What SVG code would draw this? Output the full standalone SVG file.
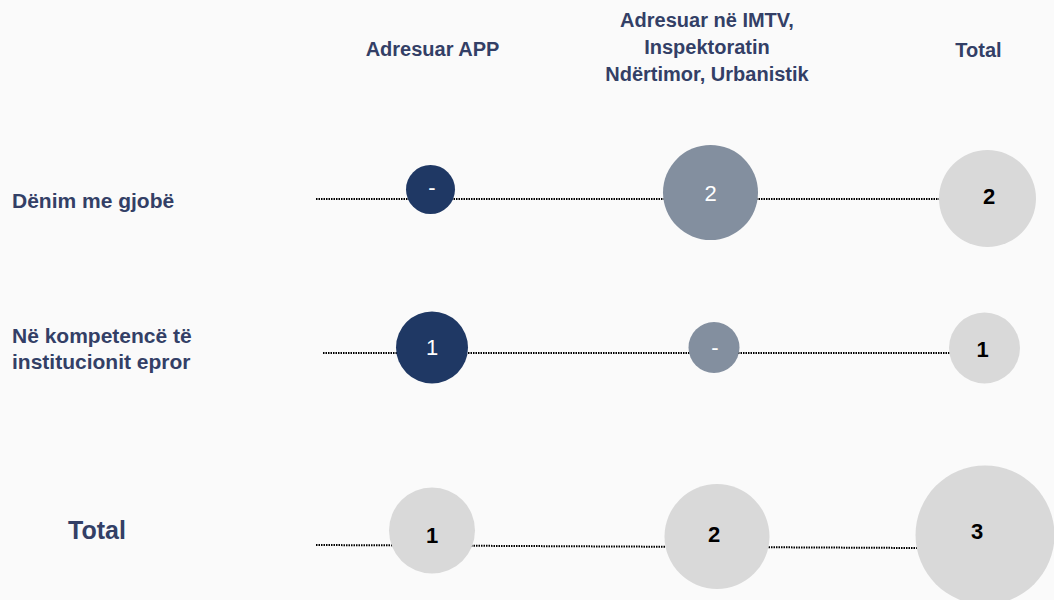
<svg xmlns="http://www.w3.org/2000/svg" width="1054" height="600" viewBox="0 0 1054 600">
<style>
.hdr{font-family:"Liberation Sans",Arial,sans-serif;font-weight:bold;font-size:20px;fill:#333f66;text-anchor:middle}
.lbl{font-family:"Liberation Sans",Arial,sans-serif;font-weight:bold;font-size:21px;fill:#333f66}
.dot{stroke:#000;stroke-width:2;stroke-dasharray:1.5 1;fill:none}
.navy{fill:#1f3864}
.gray{fill:#838f9f}
.light{fill:#d9d9d9}
.vw{font-family:"Liberation Sans",Arial,sans-serif;font-size:22px;fill:#fff;text-anchor:middle}
.vb{font-family:"Liberation Sans",Arial,sans-serif;font-size:22px;font-weight:bold;fill:#000;text-anchor:middle}
</style>
<rect width="1054" height="600" fill="#fafafa"/>
<g id="headers">
<text class="hdr" x="432.5" y="56">Adresuar APP</text>
<text class="hdr" x="707" y="27">Adresuar në IMTV,</text>
<text class="hdr" x="707" y="54">Inspektoratin</text>
<text class="hdr" x="707" y="81">Ndërtimor, Urbanistik</text>
<text class="hdr" x="978.5" y="57">Total</text>
</g>
<g id="row-labels">
<text class="lbl" x="12" y="208">Dënim me gjobë</text>
<text class="lbl" x="12" y="343">Në kompetencë të</text>
<text class="lbl" x="12" y="369">institucionit epror</text>
<text class="lbl" x="68" y="539" style="font-size:25px">Total</text>
</g>
<g id="connectors">
<line class="dot" x1="316" y1="199" x2="940" y2="199"/>
<line class="dot" x1="323" y1="353" x2="950" y2="353"/>
<line class="dot" x1="316" y1="545" x2="917" y2="548"/>
</g>
<g id="n-r1-app"><circle class="navy" cx="430.5" cy="189.5" r="24.5"/><text class="vw" x="432" y="195">-</text></g>
<g id="n-r1-imtv"><circle class="gray" cx="710.5" cy="192.5" r="47.5"/><text class="vw" x="710.5" y="201">2</text></g>
<g id="n-r1-total"><circle class="light" cx="987.5" cy="198.5" r="48.5"/><text class="vb" x="989" y="204">2</text></g>
<g id="n-r2-app"><circle class="navy" cx="432" cy="347.5" r="36"/><text class="vw" x="432" y="355">1</text></g>
<g id="n-r2-imtv"><circle class="gray" cx="714" cy="347.5" r="25.5"/><text class="vw" x="715" y="355">-</text></g>
<g id="n-r2-total"><circle class="light" cx="984.5" cy="348" r="35.5"/><text class="vb" x="982.5" y="357">1</text></g>
<g id="n-r3-app"><circle class="light" cx="432" cy="530.5" r="43"/><text class="vb" x="432" y="543">1</text></g>
<g id="n-r3-imtv"><circle class="light" cx="717" cy="536.5" r="52.5"/><text class="vb" x="714" y="542">2</text></g>
<g id="n-r3-total"><circle class="light" cx="985" cy="535" r="69.5"/><text class="vb" x="977" y="539">3</text></g>
</svg>
